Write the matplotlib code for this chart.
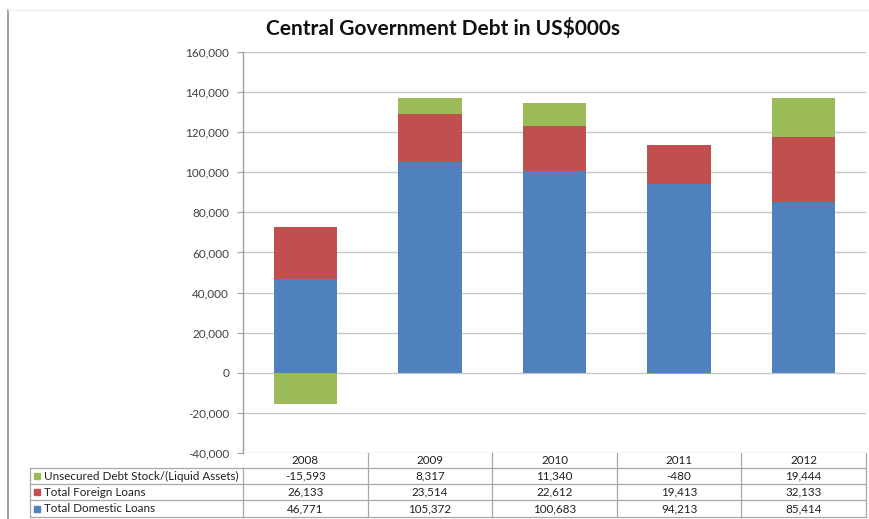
import matplotlib
matplotlib.use("Agg")
import matplotlib.pyplot as plt
from matplotlib.lines import Line2D
from matplotlib.patches import Rectangle
from matplotlib.ticker import FuncFormatter
import numpy as np

years = ["2008", "2009", "2010", "2011", "2012"]
series_names = ["Unsecured Debt Stock/(Liquid Assets)", "Total Foreign Loans", "Total Domestic Loans"]
unsecured = [-15593, 8317, 11340, -480, 19444]
foreign = [26133, 23514, 22612, 19413, 32133]
domestic = [46771, 105372, 100683, 94213, 85414]

c_green = "#9BBB59"
c_red = "#C0504D"
c_blue = "#4F81BD"
grid_c = "#C8C8C8"
text_c = "#404040"

plt.rcParams["font.family"] = ["Lato", "DejaVu Sans"]

W, H = 870, 519
fig = plt.figure(figsize=(W / 100, H / 100), dpi=100)

def fx(px):
    return px / W

def fy(py):
    return 1 - py / H

x0, x1 = 243, 866
y_top, y_bot = 52, 453
ax = fig.add_axes([fx(x0), fy(y_bot), fx(x1 - x0), (y_bot - y_top) / H])

x = np.arange(len(years))
dom = np.array(domestic, float)
fgn = np.array(foreign, float)
uns = np.array(unsecured, float)
bw = 0.51
ax.bar(x, dom, bw, color=c_blue, zorder=3)
ax.bar(x, fgn, bw, bottom=dom, color=c_red, zorder=3)
uns_bottom = np.where(uns >= 0, dom + fgn, 0.0)
ax.bar(x, uns, bw, bottom=uns_bottom, color=c_green, zorder=3)

ax.set_xlim(-0.5, len(years) - 0.5)
ax.set_ylim(-40000, 160000)
ax.set_yticks(np.arange(-40000, 160001, 20000))
ax.yaxis.set_major_formatter(FuncFormatter(lambda v, p: f"{int(v):,}"))
ax.tick_params(axis="y", labelsize=8.5, colors=text_c, length=4, width=0.8, pad=6)
ax.tick_params(axis="y", color="#A0A0A0")
ax.set_xticks([])
ax.grid(axis="y", color=grid_c, linewidth=1.0, zorder=0)
for s in ["top", "right", "bottom"]:
    ax.spines[s].set_visible(False)
ax.spines["left"].set_color("#A0A0A0")
ax.spines["left"].set_linewidth(1.0)

fig.text(fx(443), fy(29), "Central Government Debt in US$000s", ha="center", va="center",
         fontsize=15, fontweight="bold", color="#111111")

# data table beneath the plot
tl = 30
col_w = (x1 - x0) / len(years)
rows_y = [453, 468, 484, 500, 517]
line_kw = dict(color="#A8A8A8", linewidth=0.9, transform=fig.transFigure)

def hline(y, xa, xb):
    fig.add_artist(Line2D([fx(xa), fx(xb)], [fy(y), fy(y)], **line_kw))

def vline(xp, ya, yb):
    fig.add_artist(Line2D([fx(xp), fx(xp)], [fy(ya), fy(yb)], **line_kw))

for yy in rows_y[1:]:
    hline(yy, tl, x1)
vline(tl, rows_y[1], rows_y[-1])
vline(x0, rows_y[1], rows_y[-1])
for k in range(1, len(years) + 1):
    vline(x0 + col_w * k, rows_y[0], rows_y[-1])

fs_tab = 8.4
for i, yr in enumerate(years):
    cx = x0 + col_w * (i + 0.5)
    fig.text(fx(cx), fy((rows_y[0] + rows_y[1]) / 2), yr, ha="center", va="center",
             fontsize=fs_tab, color="#202020")

table_rows = [(series_names[0], unsecured, c_green),
              (series_names[1], foreign, c_red),
              (series_names[2], domestic, c_blue)]
for r, (name, vals, col) in enumerate(table_rows):
    yc = (rows_y[r + 1] + rows_y[r + 2]) / 2
    fig.add_artist(Rectangle((fx(34), fy(yc + 3)), fx(6), 6 / H, color=col,
                             transform=fig.transFigure))
    fig.text(fx(44), fy(yc), name, ha="left", va="center", fontsize=fs_tab, color="#202020")
    for i, v in enumerate(vals):
        cx = x0 + col_w * (i + 0.5)
        fig.text(fx(cx), fy(yc), f"{v:,}", ha="center", va="center",
                 fontsize=fs_tab, color="#202020")

# outer chart frame
fig.add_artist(Line2D([fx(8), fx(8)], [fy(10), fy(519)], color="#8C8C8C", linewidth=1.2,
                      transform=fig.transFigure))
fig.add_artist(Line2D([fx(8), fx(870)], [fy(10), fy(10)], color="#EEEEEE", linewidth=1.0,
                      transform=fig.transFigure))

fig.savefig("out.png", dpi=100)
